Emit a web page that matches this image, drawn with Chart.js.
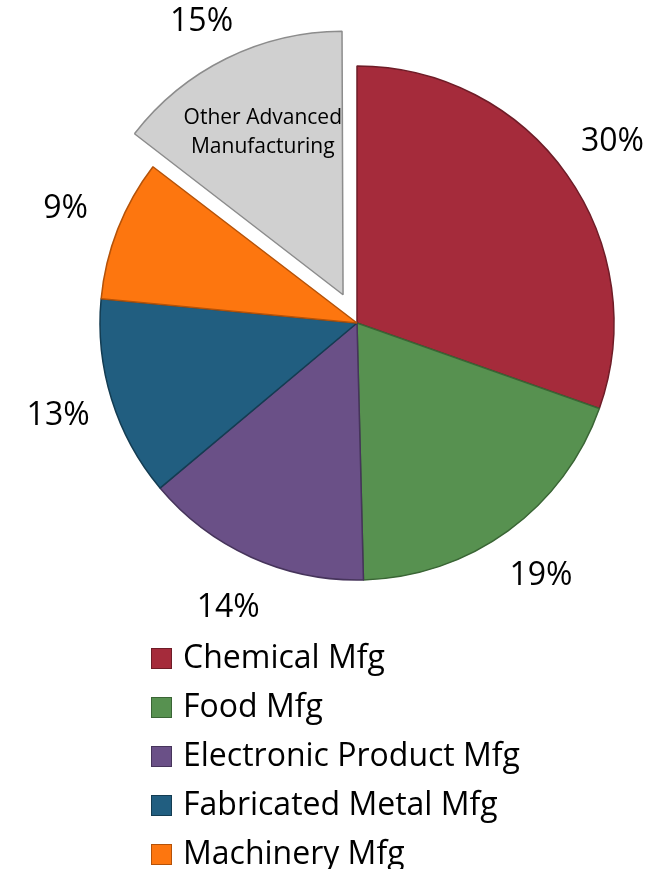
<!DOCTYPE html>
<html>
<head>
<meta charset="utf-8">
<script src="https://cdn.jsdelivr.net/npm/chart.js@4/dist/chart.umd.min.js"></script>
<style>
  html, body { margin: 0; padding: 0; background: #fff; overflow: hidden; }
  #wrap { position: relative; width: 668px; height: 869px; }
  #legend { position: absolute; left: 151px; top: 631px; margin: 0; padding: 0; list-style: none;
            font-family: "Open Sans", Lato, sans-serif; font-size: 32px; color: #000; }
  #legend li { height: 49px; display: flex; align-items: center; white-space: nowrap; }
  #legend span.box { width: 21px; height: 21px; margin-right: 11px; box-sizing: border-box; margin-top: 6px; }
</style>
</head>
<body>
<div id="wrap">
  <canvas id="pieChart" width="668" height="869"></canvas>
  <ul id="legend"></ul>
</div>
<script>
// Dữ liệu biểu đồ
const categories = ['Chemical Mfg', 'Food Mfg', 'Electronic Product Mfg', 'Fabricated Metal Mfg', 'Machinery Mfg', 'Other Advanced Manufacturing'];
const shares = [30.4, 19.2, 14.3, 12.6, 8.9, 14.6];
const sliceColors = ['#a52b3b', '#579150', '#6a5087', '#215e80', '#fd760f', '#d0d0d0'];
const edgeColors = ['#6e1c27', '#3a6535', '#46345b', '#133c52', '#b55208', '#8c8c8c'];
const explodePx = [0, 0, 0, 0, 0, 38];

const labelFont = '32px "Open Sans", Lato, sans-serif';
const total = shares.reduce((a, b) => a + b, 0);

// Chart.js v4 dịch lát theo offset/4 * (2 - sin(góc)), nên đổi ngược lại từ số pixel mong muốn
const arcOffsets = shares.map((v, i) => {
    const circ = Math.min(Math.PI, v / total * 2 * Math.PI);
    return explodePx[i] * 4 / (2 - Math.sin(circ));
});

// Nhãn phần trăm bên ngoài + nhãn bên trong lát "Other"
const outsideLabels = {
    id: 'outsideLabels',
    afterDatasetsDraw(chart) {
        const ctx = chart.ctx;
        const meta = chart.getDatasetMeta(0);
        const data = chart.data.datasets[0].data;
        ctx.save();
        ctx.fillStyle = '#000';
        ctx.textAlign = 'center';
        ctx.textBaseline = 'middle';
        meta.data.forEach((arc, i) => {
            const p = arc.getProps(['x', 'y', 'startAngle', 'endAngle', 'outerRadius']);
            const mid = (p.startAngle + p.endAngle) / 2;
            const off = explodePx[i];
            const d = p.outerRadius + off + 56;
            // giữ nhãn trong khung vẽ
            const ly = Math.max(22, p.y + Math.sin(mid) * d);
            ctx.font = labelFont;
            ctx.fillText(Math.round(data[i] / total * 100) + '%', p.x + Math.cos(mid) * d, ly);
            if (i === data.length - 1) {
                const r = p.outerRadius * 0.68 + off;
                const cx = p.x + Math.cos(mid) * r;
                const cy = p.y + Math.sin(mid) * r;
                ctx.font = '21px "Open Sans", Lato, sans-serif';
                ctx.fillText('Other Advanced', cx, cy - 14);
                ctx.fillText('Manufacturing', cx, cy + 15);
            }
        });
        ctx.restore();
    }
};

function initializePieChart() {
    const ctx = document.getElementById('pieChart');
    const chart = new Chart(ctx, {
        type: 'pie',
        data: {
            labels: categories,
            datasets: [{
                data: shares,
                backgroundColor: sliceColors,
                borderColor: edgeColors,
                borderWidth: 1.5,
                offset: arcOffsets
            }]
        },
        options: {
            responsive: false,
            animation: false,
            radius: 257,
            layout: { padding: { left: 46, right: 0, top: 0, bottom: 223 } },
            plugins: {
                legend: { display: false },
                tooltip: { enabled: false }
            }
        },
        plugins: [outsideLabels]
    });

    // Chú giải dạng danh sách dọc
    const list = document.getElementById('legend');
    categories.forEach((name, i) => {
        const li = document.createElement('li');
        const box = document.createElement('span');
        box.className = 'box';
        box.style.background = sliceColors[i];
        box.style.border = '1px solid ' + edgeColors[i];
        li.appendChild(box);
        li.appendChild(document.createTextNode(name));
        list.appendChild(li);
    });
    return chart;
}

document.addEventListener('DOMContentLoaded', () => {
    initializePieChart();
});
</script>
</body>
</html>
